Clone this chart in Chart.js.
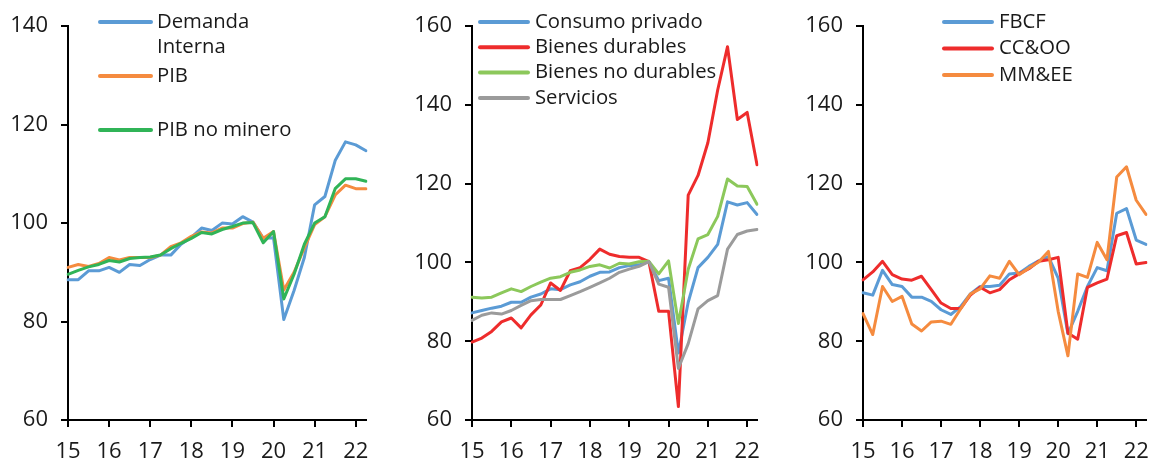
<!DOCTYPE html>
<html>
<head>
<meta charset="utf-8">
<script src="https://cdn.jsdelivr.net/npm/chart.js@4.4.1/dist/chart.umd.min.js"></script>
<style>
  html, body { margin: 0; padding: 0; background: #fff; }
  #wrap { position: relative; width: 1158px; height: 460px; }
  canvas { position: absolute; top: 0; }
</style>
</head>
<body>
<div id="wrap">
  <canvas id="c1" width="385" height="460" style="left:0"></canvas>
  <canvas id="c2" width="385" height="460" style="left:385px"></canvas>
  <canvas id="c3" width="388" height="460" style="left:770px"></canvas>
</div>
<script>
// Quarterly index, 2015Q1 .. 2022Q2
const quarters = [
    '15T1', '15T2', '15T3', '15T4', '16T1', '16T2', '16T3', '16T4',
    '17T1', '17T2', '17T3', '17T4', '18T1', '18T2', '18T3', '18T4',
    '19T1', '19T2', '19T3', '19T4', '20T1', '20T2', '20T3', '20T4',
    '21T1', '21T2', '21T3', '21T4', '22T1', '22T2'
];
const yearTicks = ['15', '16', '17', '18', '19', '20', '21', '22'];

// Panel 1
const demandaInterna = [88.5, 88.5, 90.3, 90.3, 91.0, 90.0, 91.6, 91.4, 92.6, 93.5, 93.5, 95.7, 97.1, 99.0, 98.5, 100.0, 99.8, 101.3, 100.2, 96.9, 97.0, 80.4, 86.3, 93.0, 103.7, 105.4, 112.7, 116.5, 115.9, 114.7];
const pib = [91.0, 91.6, 91.2, 91.8, 93.0, 92.5, 93.0, 93.0, 93.0, 93.5, 95.2, 96.0, 97.3, 98.2, 98.0, 99.0, 99.0, 99.9, 100.2, 96.9, 98.3, 86.4, 90.0, 95.0, 99.7, 101.3, 105.7, 107.7, 107.0, 107.0];
const pibNoMinero = [89.6, 90.4, 91.1, 91.6, 92.4, 92.1, 92.8, 93.0, 93.1, 93.5, 94.8, 95.9, 96.9, 98.1, 97.8, 98.7, 99.3, 100.0, 100.1, 96.0, 98.3, 84.6, 89.6, 95.7, 100.0, 101.3, 107.0, 109.0, 109.0, 108.5];

// Panel 2
const consumoPrivado = [87.2, 87.8, 88.4, 88.9, 89.9, 89.9, 91.2, 92.0, 93.3, 93.1, 94.3, 95.1, 96.5, 97.5, 97.6, 98.7, 99.2, 99.4, 100.2, 95.4, 96.0, 77.0, 89.9, 98.7, 101.3, 104.6, 115.4, 114.6, 115.2, 112.2];
const bienesDurables = [79.8, 80.8, 82.5, 84.9, 85.9, 83.4, 86.7, 89.2, 94.8, 92.9, 97.9, 98.7, 100.8, 103.4, 102.1, 101.5, 101.3, 101.3, 100.2, 87.6, 87.6, 63.4, 117.1, 122.1, 130.4, 143.8, 154.8, 136.3, 138.1, 124.8];
const bienesNoDurables = [91.2, 91.0, 91.2, 92.3, 93.3, 92.6, 93.9, 95.0, 96.0, 96.4, 97.5, 98.1, 99.0, 99.4, 98.6, 99.8, 99.6, 100.2, 100.3, 97.1, 100.4, 84.5, 98.3, 106.0, 107.1, 111.7, 121.2, 119.4, 119.3, 114.8];
const servicios = [85.3, 86.6, 87.2, 86.9, 87.8, 89.1, 90.3, 90.6, 90.6, 90.6, 91.6, 92.6, 93.7, 94.8, 96.0, 97.5, 98.3, 99.0, 100.2, 94.5, 93.7, 73.1, 79.4, 88.2, 90.3, 91.6, 103.4, 107.1, 108.0, 108.4];

// Panel 3
const fbcf = [92.3, 91.7, 98.0, 94.4, 93.9, 91.2, 91.2, 90.1, 88.0, 86.8, 88.8, 92.0, 93.9, 93.9, 94.2, 97.1, 97.3, 99.0, 100.4, 101.5, 96.0, 81.9, 87.6, 93.9, 98.7, 97.9, 112.5, 113.7, 105.7, 104.6];
const ccoo = [95.6, 97.6, 100.3, 96.9, 95.8, 95.5, 96.5, 93.1, 89.7, 88.3, 88.3, 91.7, 93.7, 92.3, 93.1, 95.6, 97.1, 98.4, 100.3, 100.7, 101.3, 82.1, 80.5, 93.7, 94.8, 95.8, 106.8, 107.6, 99.6, 100.0];
const mmee = [87.0, 81.7, 93.9, 90.1, 91.4, 84.4, 82.6, 84.9, 85.1, 84.3, 88.2, 92.0, 93.3, 96.6, 96.0, 100.3, 96.9, 98.6, 100.1, 102.8, 87.6, 76.3, 97.1, 96.2, 105.1, 100.7, 121.7, 124.3, 115.8, 112.2];

const FONT = '"Open Sans", sans-serif';
const TEXT = '#1a1a1a';

// Legend drawn in the top-left corner of each panel
const sideLegend = {
    id: 'sideLegend',
    afterDraw(chart, args, opts) {
        const ctx = chart.ctx;
        ctx.save();
        ctx.font = '20.3px ' + FONT;
        ctx.textBaseline = 'middle';
        ctx.fillStyle = TEXT;
        ctx.lineWidth = 4;
        ctx.lineCap = 'round';
        let y = opts.top;
        chart.data.datasets.forEach(ds => {
            ctx.strokeStyle = ds.borderColor;
            ctx.beginPath();
            ctx.moveTo(opts.x + 2, y);
            ctx.lineTo(opts.x + opts.lineLen - 2, y);
            ctx.stroke();
            ds.label.split('\n').forEach((t, j) => {
                ctx.fillText(t, opts.x + opts.lineLen + opts.gap, y + j * opts.lineStep);
            });
            y += opts.itemStep;
        });
        ctx.restore();
    }
};

function series(label, data, color, order) {
    return {
        label: label,
        data: data,
        borderColor: color,
        backgroundColor: color,
        borderWidth: 3,
        pointRadius: 0,
        tension: 0,
        borderJoinStyle: 'round',
        borderCapStyle: 'round',
        order: order
    };
}

function makeChart(id, datasets, yMax, leftW, rightPad, legendOpts) {
    return new Chart(document.getElementById(id), {
        type: 'line',
        data: { labels: quarters, datasets: datasets },
        options: {
            responsive: false,
            animation: false,
            layout: { padding: { top: 22, right: rightPad, bottom: 0, left: 0 } },
            plugins: {
                legend: { display: false },
                tooltip: { enabled: false },
                sideLegend: legendOpts
            },
            scales: {
                x: {
                    offset: false,
                    grid: {
                        drawOnChartArea: false,
                        tickLength: 7,
                        lineWidth: 2,
                        color: c => c.index % 4 === 0 ? '#000' : 'rgba(0,0,0,0)'
                    },
                    border: { color: '#000', width: 2 },
                    ticks: {
                        autoSkip: false,
                        maxRotation: 0,
                        padding: 12,
                        color: TEXT,
                        font: { family: FONT, size: 22 },
                        callback: (v, i) => i % 4 === 0 ? yearTicks[i / 4] : ''
                    },
                    afterFit: s => { s.height = 40; }
                },
                y: {
                    min: 60,
                    max: yMax,
                    grid: { drawOnChartArea: false, tickLength: 7, lineWidth: 2, color: '#000' },
                    border: { color: '#000', width: 2 },
                    ticks: {
                        stepSize: 20,
                        padding: 13,
                        color: TEXT,
                        font: { family: FONT, size: 22 }
                    },
                    afterFit: s => { s.width = leftW; }
                }
            }
        },
        plugins: [sideLegend]
    });
}

makeChart('c1', [
    series('Demanda\nInterna', demandaInterna, '#5b9bd5', 3),
    series('PIB', pib, '#f58b3f', 2),
    series('PIB no minero', pibNoMinero, '#30b457', 1)
], 140, 68, 19, { x: 98, top: 22, lineLen: 55, gap: 4, itemStep: 54, lineStep: 25 });

makeChart('c2', [
    series('Consumo privado', consumoPrivado, '#5b9bd5', 4),
    series('Bienes durables', bienesDurables, '#ee2c2c', 3),
    series('Bienes no durables', bienesNoDurables, '#8cc85b', 2),
    series('Servicios', servicios, '#9b9b9b', 1)
], 160, 87, 13, { x: 93, top: 22, lineLen: 52, gap: 5, itemStep: 25.3, lineStep: 25 });

makeChart('c3', [
    series('FBCF', fbcf, '#5b9bd5', 3),
    series('CC&OO', ccoo, '#ee2c2c', 2),
    series('MM&EE', mmee, '#f58b3f', 1)
], 160, 93, 9, { x: 172, top: 22, lineLen: 52, gap: 5, itemStep: 26.5, lineStep: 25 });
</script>
</body>
</html>
